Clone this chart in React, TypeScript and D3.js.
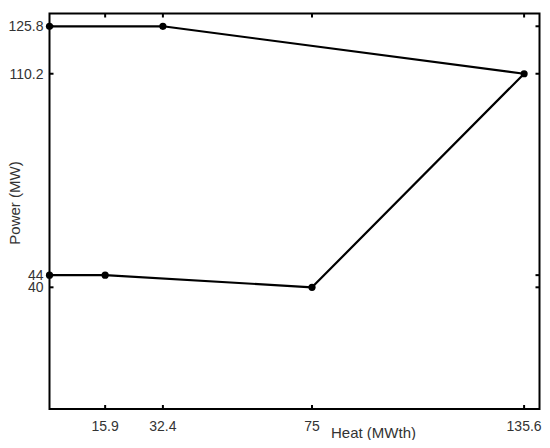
import React, { useRef, useEffect } from "react"
import * as d3 from "d3"

const width = 550
const height = 448
const margin = { top: 13.5, right: 10.5, bottom: 39, left: 49.5 }

// operating region corners (heat MWth, power MW)
const heatValues = [0, 32.4, 135.6, 75, 15.9, 0]
const powerValues = [125.8, 125.8, 110.2, 40, 44, 44]

const xTicks = [15.9, 32.4, 75, 135.6]
const yTicks = [40, 44, 110.2, 125.8]
const xDomain = [0, 140]
const yDomain = [0, 130]

const App = () => {
  const ref = useRef<SVGSVGElement>(null)

  useEffect(() => {
    if (!ref.current) return
    const svg = d3.select(ref.current)
    svg.selectAll("*").remove()

    const x = d3.scaleLinear().domain(xDomain).range([margin.left, width - margin.right])
    const y = d3.scaleLinear().domain(yDomain).range([height - margin.bottom, margin.top])
    const x0 = margin.left
    const x1 = width - margin.right
    const y0 = height - margin.bottom
    const y1 = margin.top
    const tickLen = 4
    const font = "Arial, 'Liberation Sans', sans-serif"

    // ticks, drawn inward on all four sides
    const g = svg.append("g").attr("stroke", "#000").attr("stroke-width", 2)
    xTicks.forEach(t => {
      g.append("line").attr("x1", x(t)).attr("x2", x(t)).attr("y1", y0).attr("y2", y0 - tickLen)
      g.append("line").attr("x1", x(t)).attr("x2", x(t)).attr("y1", y1).attr("y2", y1 + tickLen)
    })
    yTicks.forEach(t => {
      g.append("line").attr("y1", y(t)).attr("y2", y(t)).attr("x1", x0).attr("x2", x0 + tickLen)
      g.append("line").attr("y1", y(t)).attr("y2", y(t)).attr("x1", x1).attr("x2", x1 - tickLen)
    })

    svg.append("rect")
      .attr("x", x0).attr("y", y1)
      .attr("width", x1 - x0).attr("height", y0 - y1)
      .attr("fill", "none").attr("stroke", "#000").attr("stroke-width", 2)

    // tick labels
    svg.append("g").selectAll("text").data(xTicks).enter().append("text")
      .attr("x", d => x(d)).attr("y", 431)
      .attr("text-anchor", "middle")
      .attr("font-family", font).attr("font-size", 14).attr("fill", "#333")
      .text(d => String(d))

    svg.append("g").selectAll("text").data(yTicks).enter().append("text")
      .attr("x", 43.5).attr("y", d => y(d) + 5)
      .attr("text-anchor", "end")
      .attr("font-family", font).attr("font-size", 14).attr("fill", "#333")
      .text(d => String(d))

    // axis titles
    svg.append("text")
      .attr("x", 331).attr("y", 438)
      .attr("font-family", font).attr("font-size", 15).attr("fill", "#333")
      .text("Heat (MWth)")

    svg.append("text")
      .attr("transform", "translate(20,203) rotate(-90)")
      .attr("text-anchor", "middle")
      .attr("font-family", font).attr("font-size", 15).attr("fill", "#333")
      .text("Power (MW)")

    const pts = heatValues.map((h, i) => [h, powerValues[i]] as [number, number])
    const line = d3.line<[number, number]>().x(d => x(d[0])).y(d => y(d[1]))

    svg.append("path")
      .attr("d", line(pts))
      .attr("fill", "none").attr("stroke", "#000").attr("stroke-width", 2.2)
      .attr("stroke-linejoin", "round")

    svg.append("g").selectAll("circle").data(pts).enter().append("circle")
      .attr("cx", d => x(d[0])).attr("cy", d => y(d[1]))
      .attr("r", 3.6).attr("fill", "#000")
  }, [])

  return (
    <div style={{ margin: -8 }}>
      <svg ref={ref} width={width} height={height} style={{ display: "block", background: "#fff" }} />
    </div>
  )
}

export default App
